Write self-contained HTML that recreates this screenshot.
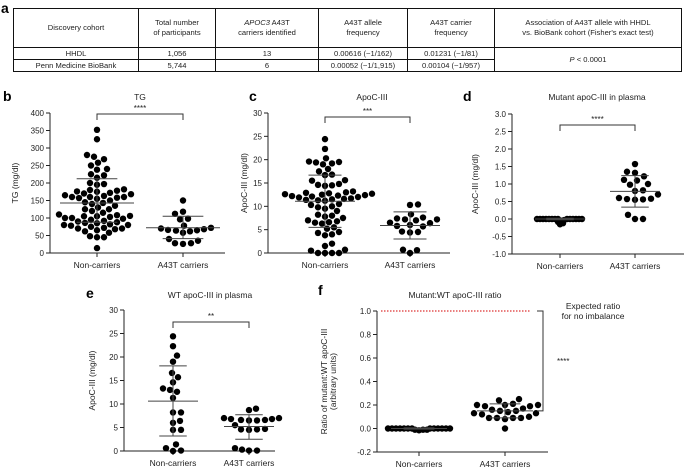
<!DOCTYPE html>
<html><head><meta charset="utf-8">
<style>
body{margin:0;background:#fff;font-family:"Liberation Sans",Arial,sans-serif;}
#wrap{position:relative;width:685px;height:471px;overflow:hidden;}
table{position:absolute;left:13px;top:8px;width:669px;border-collapse:collapse;font-size:7.6px;color:#222;table-layout:fixed;}
td{border:1px solid #111;text-align:center;padding:0;line-height:10px;white-space:nowrap;}
table tr.h td{height:38px;}
table tr.r td{height:11px;}
.pl{position:absolute;font-weight:bold;font-size:14px;}
svg{position:absolute;left:0;top:0;}
svg text{font-family:"Liberation Sans",Arial,sans-serif;fill:#222;}
</style></head><body>
<div id="wrap">
<div class="pl" style="left:1px;top:0px">a</div>
<table style="border:1.5px solid #111">
<colgroup><col style="width:125px"><col style="width:77px"><col style="width:103px"><col style="width:89px"><col style="width:87px"><col></colgroup>
<tr class="h">
<td>Discovery cohort</td>
<td>Total number<br>of participants</td>
<td><i>APOC3</i> A43T<br>carriers identified</td>
<td>A43T allele<br>frequency</td>
<td>A43T carrier<br>frequency</td>
<td>Association of A43T allele with HHDL<br>vs. BioBank cohort (Fisher's exact test)</td></tr>
<tr class="r"><td>HHDL</td><td>1,056</td><td>13</td><td>0.00616 (~1/162)</td><td>0.01231 (~1/81)</td><td rowspan="2"><i>P</i> &lt; 0.0001</td></tr>
<tr class="r"><td>Penn Medicine BioBank</td><td>5,744</td><td>6</td><td>0.00052 (~1/1,915)</td><td>0.00104 (~1/957)</td></tr>
</table>
<div class="pl" style="left:3px;top:88px">b</div>
<div class="pl" style="left:249px;top:88px">c</div>
<div class="pl" style="left:463px;top:88px">d</div>
<div class="pl" style="left:86px;top:285px">e</div>
<div class="pl" style="left:318px;top:282px">f</div>
<svg id="svg" width="685" height="471"></svg>
</div>
<script>
const categories=["Non-carriers","A43T carriers"];
const bNon=[352,325,280,275,268,258,250,240,238,225,222,215,200,197,195,182,180,178,176,175,172,170,168,165,163,160,160,160,158,157,155,150,145,143,140,135,130,125,125,120,115,110,108,106,105,105,103,100,100,98,95,92,90,88,86,85,82,80,80,78,75,72,70,70,68,65,62,58,48,45,45,14];
const bCar=[150,118,112,98,96,78,72,70,68,66,65,64,62,58,40,35,28,26,28];
const bStats=[[143,212,88],[72,105,41]];
const cNon=[24.4,22.3,20.3,19.6,19.5,19.4,19.2,19.0,18,17.5,16.8,16.7,15.6,15.5,14.6,14.5,14.4,14.8,13.2,13.0,12.9,12.8,12.7,12.6,12.5,12.4,12.3,12.2,12.1,12.0,11.9,11.7,11.6,11.5,11.4,11.3,11.2,10.5,10.3,10.0,9.8,9.5,9.0,8.2,8.0,7.8,7.5,7.0,6.8,6.6,6.5,6.3,5.5,5.2,4.5,4.3,4.0,3.8,2.0,1.5,0.7,0.5,0,0,0,0];
const cCar=[10.4,10.3,8.3,7.6,7.4,7.2,7.0,7.2,6.5,6.4,6.0,5.8,5.7,4.6,4.5,4.4,0.7,0.6,0];
const cStats=[[11.1,16.7,5.5],[5.9,8.8,3.0]];
const dNon=[0,0,0,0,0,0,0,0,0,0,0,0,0,0,-0.03,-0.05,-0.08,-0.12,-0.15];
const dCar=[1.57,1.35,1.32,1.22,1.12,1.10,1.00,0.98,0.82,0.80,0.70,0.60,0.58,0.57,0.56,0.55,0.12,0.0,0.0];
const dStats=[[0,0.02,-0.02],[0.79,1.24,0.34]];
const eNon=[24.4,22.3,20.3,19.0,16.6,15.7,14.6,13.3,13.0,12.6,11.3,8.2,8.2,6.4,6.0,4.5,4.5,1.4,0.6,0.1,0.0];
const eCar=[9.0,8.7,7.0,6.8,6.6,6.5,6.5,6.6,6.8,7.0,5.5,4.7,4.6,4.6,4.5,0.6,0.3,0.1,0.1];
const eStats=[[10.6,18.1,3.2],[5.2,7.7,2.5]];
const fNon=[0,0,0,0,0,0,0,0,0,0,0,0,0,-0.01,-0.01,-0.015,-0.01];
const fCar=[0.25,0.24,0.21,0.20,0.20,0.20,0.19,0.19,0.17,0.16,0.15,0.15,0.14,0.13,0.13,0.12,0.09,0.09,0.09,0.09,0.10,0.08,0.0];
const fStats=[[0,0.005,-0.005],[0.15,0.21,0.09]];
const bTicks=[0,50,100,150,200,250,300,350,400];
const cTicks=[0,5,10,15,20,25,30];
const dTicks=[-1.0,-0.5,0.0,0.5,1.0,1.5,2.0,2.5,3.0];
const eTicks=[0,5,10,15,20,25,30];
const fTicks=[-0.2,0.0,0.2,0.4,0.6,0.8,1.0];
const expectedRatio=1.0;

const NS="http://www.w3.org/2000/svg";
const svg=document.getElementById('svg');
function mk(t,a,p){const e=document.createElementNS(NS,t);for(const k in a)e.setAttribute(k,a[k]);(p||svg).appendChild(e);return e;}
function panel(o){
  const g=mk('g',{});
  
  
  const y=v=>o.y0+(v-o.min)/(o.max-o.min)*(o.y1-o.y0);
  const xs=[o.xc0,o.xc1];
  mk('line',{x1:o.ax,x2:o.ax,y1:y(o.max),y2:y(o.min),stroke:'#222','stroke-width':1},g);
  mk('line',{x1:o.ax,x2:o.axEnd,y1:y(o.min),y2:y(o.min),stroke:'#222','stroke-width':1},g);
  o.ticks.forEach(t=>{
    mk('line',{x1:o.ax-4,x2:o.ax,y1:y(t),y2:y(t),stroke:'#222'},g);
    const tx=mk('text',{x:o.ax-6,y:y(t)+3,'font-size':8,'text-anchor':'end'},g);
    tx.textContent=o.fmt(t);
  });
  categories.forEach((c,i)=>{
    mk('line',{x1:xs[i],x2:xs[i],y1:y(o.min),y2:y(o.min)+4,stroke:'#222'},g);
    const tx=mk('text',{x:xs[i],y:y(o.min)+15,'font-size':8.5,'text-anchor':'middle'},g);
    
    
    tx.textContent=c;
  });
  const tt=mk('text',{x:o.tx,y:o.ty,'font-size':8.5,'text-anchor':'middle'},g);
  
  
  tt.textContent=o.title;
  o.ylab.forEach((l,i)=>{
    const yl=mk('text',{x:0,y:0,'font-size':8.5,'text-anchor':'middle',transform:`translate(${o.ylx+i*9},${(y(o.max)+y(o.min))/2}) rotate(-90)`},g);
    
    
    yl.textContent=l;
  });
  const r=3.2;
  [o.d0,o.d1].forEach((data,i)=>{
    const placed=[];
    const sp=i===0?o.sp0:o.sp1;
    const sorted=data.slice().sort((a,b)=>a-b);
    sorted.forEach(v=>{
      const py=y(v);let best=0;
      for(let k=0;k<300;k++){
        const off=(k%2?1:-1)*Math.ceil(k/2)*1;
        if(placed.every(p=>Math.hypot(p[0]-off,p[1]-py)>=2*r*sp)){best=off;break;}
      }
      placed.push([best,py]);
      const c=mk('circle',{cx:xs[i]+best,cy:py,r:r,fill:'#000'},g);
      
      
    });
    const s=o.stats[i];
    mk('line',{x1:xs[i],x2:xs[i],y1:y(s[1]),y2:y(s[2]),stroke:'#444','stroke-width':1},g);
    mk('line',{x1:xs[i]-o.mw,x2:xs[i]+o.mw,y1:y(s[0]),y2:y(s[0]),stroke:'#444','stroke-width':1},g);
    [1,2].forEach(j=>mk('line',{x1:xs[i]-o.mw*0.55,x2:xs[i]+o.mw*0.55,y1:y(s[j]),y2:y(s[j]),stroke:'#444','stroke-width':1},g));
  });
  if(o.br){
    mk('path',{d:`M${xs[0]},${o.br+6}V${o.br}H${xs[1]}V${o.br+6}`,fill:'none',stroke:'#333'},g);
    const st=mk('text',{x:(xs[0]+xs[1])/2,y:o.br-3,'font-size':8,'text-anchor':'middle'},g);
    
    
    st.textContent=o.stars;
  }
  return {g,y};
}
const i0=v=>String(v), f1=v=>v.toFixed(1);
panel({name:'panel-b-tg',min:0,max:400,y0:253,y1:113,ax:50,axEnd:225,xc0:97,xc1:183,ticks:bTicks,fmt:i0,d0:bNon,d1:bCar,stats:bStats,title:'TG',tx:140,ty:100,ylab:['TG (mg/dl)'],ylx:18,br:114,stars:'****',mw:37,sp0:1.05,sp1:1.1});
panel({name:'panel-c-apoc3',min:0,max:30,y0:253,y1:113,ax:268,axEnd:450,xc0:325,xc1:410,ticks:cTicks,fmt:i0,d0:cNon,d1:cCar,stats:cStats,title:'ApoC-III',tx:372,ty:100,ylab:['ApoC-III (mg/dl)'],ylx:247,br:117,stars:'***',mw:30,sp0:1.05,sp1:1.15});
panel({name:'panel-d-mutant',min:-1,max:3,y0:254,y1:114,ax:512,axEnd:684,xc0:560,xc1:635,ticks:dTicks,fmt:f1,d0:dNon,d1:dCar,stats:dStats,title:'Mutant apoC-III in plasma',tx:597,ty:100,ylab:['ApoC-III (mg/dl)'],ylx:478,br:125,stars:'****',mw:25,sp0:0.42,sp1:1.2});
panel({name:'panel-e-wt',min:0,max:30,y0:451,y1:310,ax:124,axEnd:275,xc0:173,xc1:249,ticks:eTicks,fmt:i0,d0:eNon,d1:eCar,stats:eStats,title:'WT apoC-III in plasma',tx:210,ty:298,ylab:['ApoC-III (mg/dl)'],ylx:95,br:322,stars:'**',mw:25,sp0:1.1,sp1:1.1});
const F=panel({name:'panel-f-ratio',min:-0.2,max:1.0,y0:452,y1:311,ax:377,axEnd:548,xc0:419,xc1:505,ticks:fTicks,fmt:f1,d0:fNon,d1:fCar,stats:fStats,title:'Mutant:WT apoC-III ratio',tx:455,ty:298,ylab:['Ratio of mutant:WT apoC-III','(arbitrary units)'],ylx:327,br:0,mw:28,sp0:0.48,sp1:1.15});
const ry=F.y(expectedRatio);
const rl=mk('line',{x1:381,x2:530,y1:ry,y2:ry,stroke:'#d33','stroke-width':1.2,'stroke-dasharray':'1.5,1.5'});


const by=F.y(fStats[1][0]);
const bk=mk('path',{d:`M537,${ry}H543V${by}H537`,fill:'none',stroke:'#333'});


const st=mk('text',{x:557,y:(ry+by)/2+3,'font-size':8});st.textContent='****';


['Expected ratio','for no imbalance'].forEach((l,i)=>{const t=mk('text',{x:593,y:309+i*10,'font-size':8.5,'text-anchor':'middle'});t.textContent=l;

});
</script>
</body></html>
